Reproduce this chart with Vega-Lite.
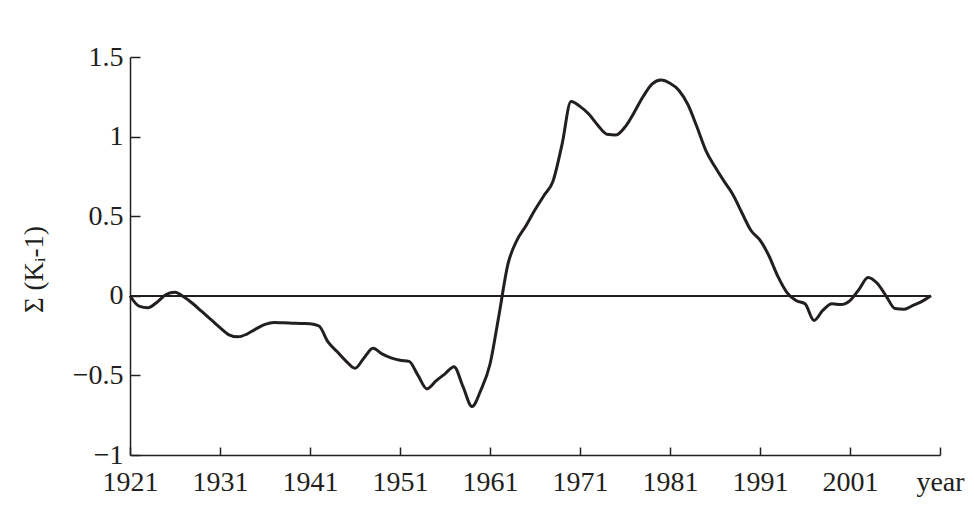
{
  "$schema": "https://vega.github.io/schema/vega-lite/v6.json",
  "autosize": "none",
  "width": 810,
  "height": 398,
  "padding": {"left": 130, "top": 57, "right": 34, "bottom": 61},
  "background": "white",
  "config": {
    "view": {"stroke": null},
    "font": "Liberation Serif",
    "axis": {
      "grid": false,
      "domainColor": "#231f20",
      "domainWidth": 1.5,
      "tickColor": "#231f20",
      "tickWidth": 1.5,
      "labelFont": "Liberation Serif",
      "labelFontSize": 28,
      "labelColor": "#231f20",
      "titleFont": "Liberation Serif",
      "titleFontSize": 27,
      "titleFontWeight": "normal",
      "titleColor": "#231f20"
    }
  },
  "data": {
    "values": [
      {"year": 1921, "v": 0.0},
      {"year": 1922, "v": -0.065},
      {"year": 1923, "v": -0.075},
      {"year": 1924, "v": -0.04},
      {"year": 1925, "v": 0.008},
      {"year": 1926, "v": 0.022},
      {"year": 1927, "v": -0.008},
      {"year": 1928, "v": -0.05},
      {"year": 1929, "v": -0.1},
      {"year": 1930, "v": -0.15},
      {"year": 1931, "v": -0.2},
      {"year": 1932, "v": -0.245},
      {"year": 1933, "v": -0.258},
      {"year": 1934, "v": -0.24},
      {"year": 1935, "v": -0.208},
      {"year": 1936, "v": -0.18},
      {"year": 1937, "v": -0.167},
      {"year": 1938, "v": -0.17},
      {"year": 1939, "v": -0.172},
      {"year": 1940, "v": -0.174},
      {"year": 1941, "v": -0.175},
      {"year": 1942, "v": -0.19},
      {"year": 1943, "v": -0.29},
      {"year": 1944, "v": -0.35},
      {"year": 1945, "v": -0.41},
      {"year": 1946, "v": -0.455},
      {"year": 1947, "v": -0.39},
      {"year": 1948, "v": -0.33},
      {"year": 1949, "v": -0.365},
      {"year": 1950, "v": -0.39},
      {"year": 1951, "v": -0.405},
      {"year": 1952, "v": -0.412},
      {"year": 1953, "v": -0.5},
      {"year": 1954, "v": -0.585},
      {"year": 1955, "v": -0.535},
      {"year": 1956, "v": -0.49},
      {"year": 1957, "v": -0.445},
      {"year": 1958, "v": -0.57},
      {"year": 1959, "v": -0.695},
      {"year": 1960, "v": -0.59},
      {"year": 1961, "v": -0.43},
      {"year": 1962, "v": -0.12},
      {"year": 1963, "v": 0.2},
      {"year": 1964, "v": 0.35},
      {"year": 1965, "v": 0.44},
      {"year": 1966, "v": 0.54},
      {"year": 1967, "v": 0.63},
      {"year": 1968, "v": 0.72},
      {"year": 1969, "v": 0.95},
      {"year": 1970, "v": 1.22},
      {"year": 1971, "v": 1.19},
      {"year": 1972, "v": 1.14},
      {"year": 1973, "v": 1.07},
      {"year": 1974, "v": 1.015},
      {"year": 1975, "v": 1.01},
      {"year": 1976, "v": 1.06},
      {"year": 1977, "v": 1.15},
      {"year": 1978, "v": 1.25},
      {"year": 1979, "v": 1.33},
      {"year": 1980, "v": 1.355},
      {"year": 1981, "v": 1.335},
      {"year": 1982, "v": 1.29},
      {"year": 1983, "v": 1.2},
      {"year": 1984, "v": 1.06},
      {"year": 1985, "v": 0.91},
      {"year": 1986, "v": 0.81},
      {"year": 1987, "v": 0.72},
      {"year": 1988, "v": 0.635},
      {"year": 1989, "v": 0.52},
      {"year": 1990, "v": 0.41},
      {"year": 1991, "v": 0.35},
      {"year": 1992, "v": 0.25},
      {"year": 1993, "v": 0.12},
      {"year": 1994, "v": 0.02},
      {"year": 1995, "v": -0.03},
      {"year": 1996, "v": -0.05},
      {"year": 1997, "v": -0.155},
      {"year": 1998, "v": -0.09},
      {"year": 1999, "v": -0.05},
      {"year": 2000, "v": -0.055},
      {"year": 2001, "v": -0.03},
      {"year": 2002, "v": 0.04},
      {"year": 2003, "v": 0.115},
      {"year": 2004, "v": 0.08},
      {"year": 2005, "v": 0.0},
      {"year": 2006, "v": -0.08},
      {"year": 2007, "v": -0.085},
      {"year": 2008, "v": -0.06},
      {"year": 2009, "v": -0.035},
      {"year": 2010, "v": 0.0}
    ]
  },
  "layer": [
    {
      "mark": {"type": "rule", "color": "#231f20", "strokeWidth": 1.5},
      "encoding": {
        "x": {"datum": 1921, "type": "quantitative"},
        "x2": {"datum": 2010},
        "y": {"datum": 0, "type": "quantitative"}
      }
    },
    {
      "mark": {"type": "line", "color": "#231f20", "strokeWidth": 3, "interpolate": "monotone"},
      "encoding": {
        "x": {
          "field": "year",
          "type": "quantitative",
          "scale": {"domain": [1921, 2011], "nice": false, "zero": false},
          "axis": {
            "title": null,
            "values": [1921, 1931, 1941, 1951, 1961, 1971, 1981, 1991, 2001, 2011],
            "labelExpr": "datum.value == 2011 ? 'year' : datum.value",
            "tickSize": -8,
            "labelPadding": 21,
            "labelFlush": false,
            "labelOverlap": false
          }
        },
        "y": {
          "field": "v",
          "type": "quantitative",
          "scale": {"domain": [-1, 1.5], "nice": false, "zero": false},
          "axis": {
            "title": "Σ (Kᵢ-1)",
            "values": [-1, -0.5, 0, 0.5, 1, 1.5],
            "format": "~g",
            "tickSize": -10,
            "labelPadding": 17,
            "labelFlush": false,
            "labelOverlap": false,
            "titlePadding": 24,
            "titleY": 212
          }
        }
      }
    }
  ]
}
